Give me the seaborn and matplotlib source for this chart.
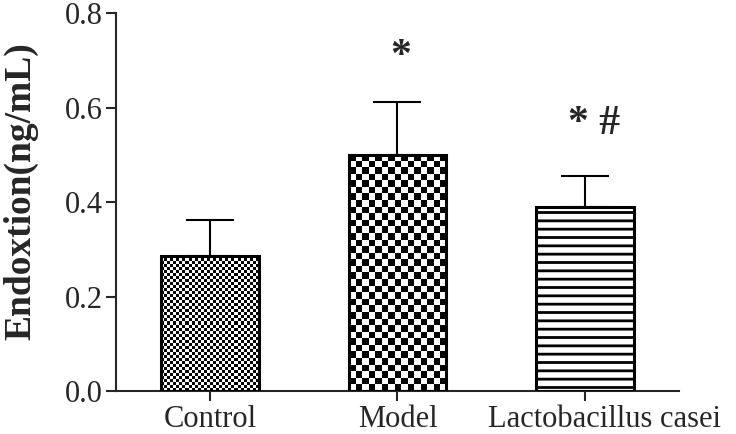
import numpy as np
import pandas as pd
import matplotlib
matplotlib.use("Agg")
import matplotlib.pyplot as plt
import matplotlib.transforms as mtransforms
import seaborn as sns

# values
groups = ["Control", "Model", "Lactobacillus casei"]
means = [0.286, 0.500, 0.390]
sds = [0.076, 0.112, 0.065]
marks = ["", "*", "* #"]

sns.set_style("ticks")
plt.rcParams["font.family"] = ["Liberation Serif", "DejaVu Serif"]
plt.rcParams["hatch.linewidth"] = 2.0

df = pd.DataFrame({"group": groups, "mean": means, "sd": sds})

fig = plt.figure(figsize=(7.36, 4.34), dpi=100)
ax = fig.add_axes([0.158, 0.099, 0.764, 0.871])

sns.barplot(data=df, x="group", y="mean", color="white", edgecolor="black",
            linewidth=2.2, width=0.52, saturation=1, ax=ax, zorder=3)

pos = np.arange(len(groups))
ax.errorbar(pos, df["mean"], yerr=[np.zeros(len(groups)), df["sd"]], fmt="none",
            ecolor="black", elinewidth=1.5, capsize=17, capthick=1.5, zorder=1)

ax.set_xlim(-0.5, 2.5)
ax.set_ylim(0, 0.8)
fig.canvas.draw()

# checkerboard fills (fine for Control, coarse for Model), horizontal lines for L. casei
cell_px = [3.0, 6.5]
patches = list(ax.patches)
for i, p in enumerate(patches):
    if i < 2:
        x0, y0 = p.get_x(), p.get_y()
        w, h = p.get_width(), p.get_height()
        (px0, py0), (px1, py1) = ax.transData.transform([(x0, y0), (x0 + w, y0 + h)])
        nx = max(1, int(round(abs(px1 - px0) / cell_px[i])))
        ny = max(1, int(round(abs(py1 - py0) / cell_px[i])))
        board = np.indices((ny, nx)).sum(axis=0) % 2
        im = ax.imshow(board, cmap="gray", extent=(x0, x0 + w, y0, y0 + h),
                       interpolation="nearest", aspect="auto", zorder=2)
        im.set_clip_path(p)
        p.set_facecolor("none")
    else:
        p.set_hatch("--")

ax.set_xlim(-0.5, 2.5)
ax.set_ylim(0, 0.8)

gap = [0, 0.095, 0.11]
for i, m in enumerate(marks):
    if m:
        ax.text(pos[i] + (0.02 if i == 1 else 0.05), means[i] + sds[i] + gap[i], m,
                ha="center", va="center", fontsize=30, fontweight="bold")

ax.set_yticks([0, 0.2, 0.4, 0.6, 0.8])
ax.set_yticklabels(["0.0", "0.2", "0.4", "0.6", "0.8"])
ax.tick_params(axis="both", direction="out", length=7, width=1.5, labelsize=22, pad=3)
ax.set_xlabel("")
ax.set_ylabel("Endoxtion(ng/mL)", fontsize=27, fontweight="bold")
ax.yaxis.set_label_coords(-0.138, 0.53)

# last category label sits a little right of its tick in the original
lbl = ax.get_xticklabels()[-1]
lbl.set_transform(lbl.get_transform() + mtransforms.ScaledTranslation(0.2, 0, fig.dpi_scale_trans))

sns.despine(ax=ax)
for s in ["left", "bottom"]:
    ax.spines[s].set_linewidth(1.5)

fig.savefig("out.png", dpi=100)
